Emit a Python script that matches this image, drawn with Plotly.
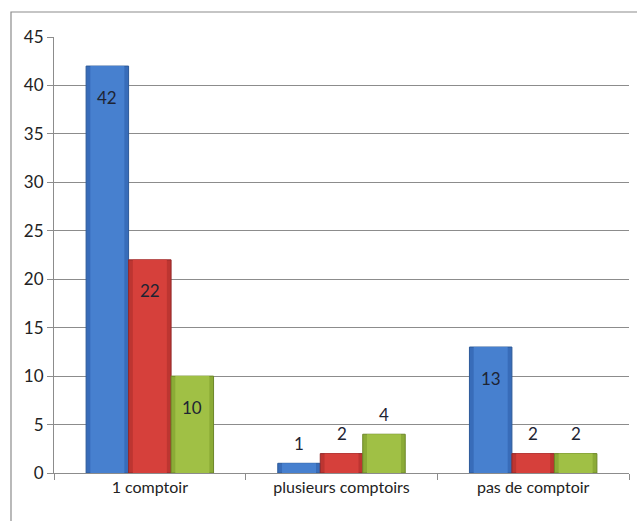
import plotly.graph_objects as go

categories = ["1 comptoir", "plusieurs comptoirs", "pas de comptoir"]
serie_bleue = [42, 1, 13]
serie_rouge = [22, 2, 2]
serie_verte = [10, 4, 2]
y_ticks = [0, 5, 10, 15, 20, 25, 30, 35, 40, 45]

series = [serie_bleue, serie_rouge, serie_verte]
centres = ["#4780cf", "#d6403b", "#a0c045"]
bords = ["#386cb9", "#bd3531", "#8bab36"]
contours = ["#2c5a99", "#92292a", "#6d8728"]

FONT = "Lato, Carlito, Liberation Sans, sans-serif"
W, H = 637, 521
ML, MR, MT, MB = 54, 8, 37, 48
BARGAP = 0.335
n_series = len(series)
slot = (1 - BARGAP) / n_series  # width of one bar, in category units
xs = list(range(len(categories)))

fig = go.Figure()
for j, vals in enumerate(series):
    off = -0.5 * (1 - BARGAP) + j * slot
    # darker body of the bar
    fig.add_trace(go.Bar(
        x=xs, y=vals, width=slot, offset=off,
        marker=dict(color=bords[j], line=dict(color=contours[j], width=1)),
        hoverinfo="skip", showlegend=False,
    ))
    # lighter centre band giving the bevelled look
    inset = slot * 0.1
    fig.add_trace(go.Bar(
        x=xs, y=vals, width=slot - 2 * inset, offset=off + inset,
        marker=dict(color=centres[j], line=dict(width=0)),
        hoverinfo="skip", showlegend=False,
    ))

# value labels: inside near the top for tall bars, above the bar otherwise
annotations = []
for j, vals in enumerate(series):
    for i, v in enumerate(vals):
        xpos = i + (j - (n_series - 1) / 2) * slot
        inside = v >= 8
        annotations.append(dict(
            x=xpos, y=v, xref="x", yref="y", text=str(v), showarrow=False,
            yanchor="middle", yshift=-31 if inside else 20,
            font=dict(family=FONT, size=17, color="#1e2433"),
        ))

# outer chart frame
px_w = W - ML - MR
px_h = H - MT - MB
shapes = [dict(
    type="rect", xref="paper", yref="paper",
    x0=(11 - ML) / px_w, x1=(W + 20 - ML) / px_w,
    y0=-(MB + 20) / px_h, y1=(H - MB - 12) / px_h,
    line=dict(color="#8c8c8c", width=1.2), fillcolor="rgba(0,0,0,0)",
)]

fig.update_layout(
    width=W, height=H,
    margin=dict(l=ML, r=MR, t=MT, b=MB),
    paper_bgcolor="white", plot_bgcolor="white",
    barmode="overlay",
    font=dict(family=FONT, size=16, color="#222222"),
    annotations=annotations, shapes=shapes,
    xaxis=dict(
        tickmode="array", tickvals=xs,
        ticktext=categories, range=[-0.5, len(categories) - 0.5],
        showgrid=False, showline=True, linecolor="#8c8c8c", linewidth=1,
        ticks="", tickfont=dict(size=16), zeroline=False,
        minor=dict(tickmode="array",
                   tickvals=[k - 0.5 for k in range(len(categories) + 1)],
                   ticks="outside", ticklen=6, tickcolor="#8c8c8c"),
    ),
    yaxis=dict(
        range=[0, 45], tickvals=y_ticks, showgrid=True,
        gridcolor="#8c8c8c", gridwidth=1, showline=True,
        linecolor="#8c8c8c", linewidth=1, ticks="outside", ticklen=6,
        tickcolor="#8c8c8c", tickfont=dict(size=17), zeroline=False,
    ),
)

fig.write_html("out.html")
